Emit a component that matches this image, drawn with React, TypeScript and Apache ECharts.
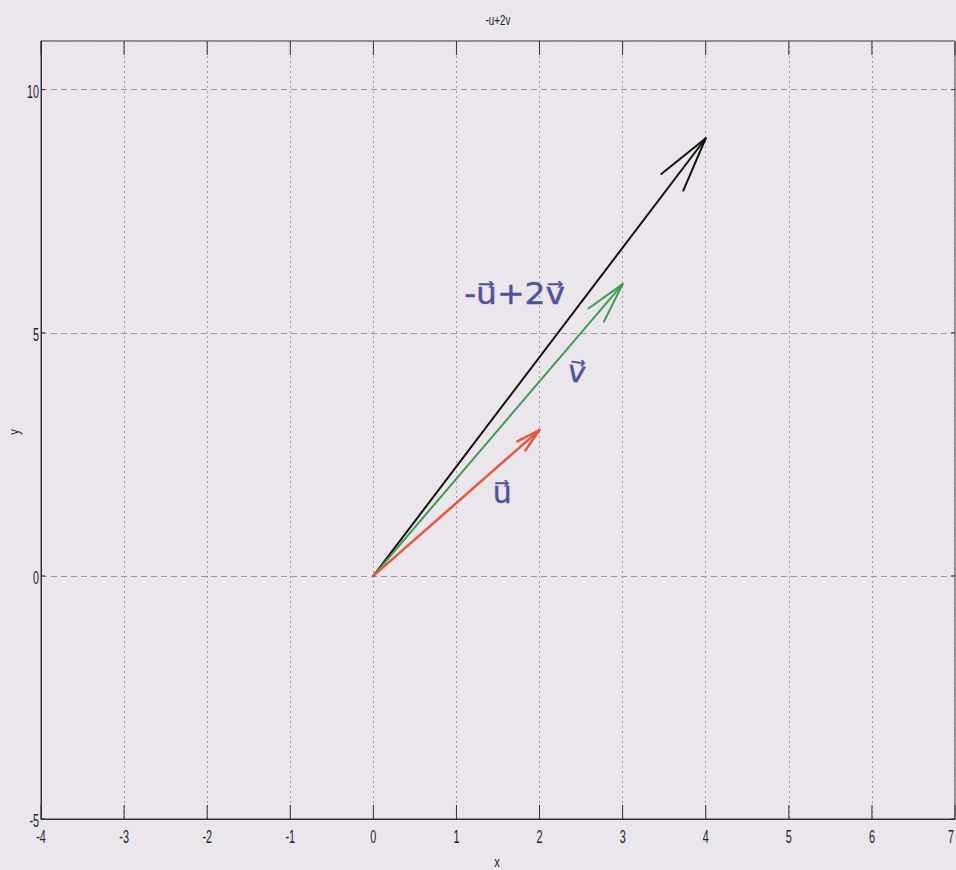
import React, { useEffect, useRef } from "react";
import * as echarts from "echarts";

// ---- data ----
const chartTitle = "-u+2v";
const xName = "x";
const yName = "y";
const xRange = [-4, 7];
const yRange = [-5, 11];
const xStep = 1;
const yStep = 5;
const xTicks = [-4, -3, -2, -1, 0, 1, 2, 3, 4, 5, 6, 7];
const yTicks = [-5, 0, 5, 10];

const vectorNames = ["u", "v", "-u+2v"];
const vectorStart = [
  [0, 0],
  [0, 0],
  [0, 0],
];
const vectorEnd = [
  [2, 3],
  [3, 6],
  [4, 9],
];

// handwritten annotations (text + data position of their centre)
const noteTexts = ["-u\u20D7+2v\u20D7", "v\u20D7", "u\u20D7"];
const notePos = [
  [1.7, 5.8],
  [2.45, 4.2],
  [1.55, 1.72],
];

// ---- styles ----
const vectorStyles = [
  { color: "#E4583F", width: 2.5, head: 25 },
  { color: "#3E9B52", width: 2, head: 42 },
  { color: "#111111", width: 2, head: 57 },
];
const noteColor = "#52529A";
const bg = "#EAE6EC";
const axisColor = "#333";
const gridColor = "#9a9a9a";
const labelFont = "18px 'Liberation Sans', Arial, sans-serif";
const labelScaleX = 0.6;

export default function App() {
  const ref = useRef<HTMLDivElement>(null);

  useEffect(() => {
    if (!ref.current) return;
    const chart = echarts.init(ref.current, undefined, { renderer: "svg" });

    const vectorSeries = vectorNames.map((name, i) => ({
      type: "custom",
      name,
      xAxisIndex: 0,
      yAxisIndex: 0,
      z: 3 + (2 - i),
      data: [[vectorStart[i][0], vectorStart[i][1], vectorEnd[i][0], vectorEnd[i][1]]],
      encode: { x: [0, 2], y: [1, 3] },
      renderItem: (params: any, api: any) => {
        const p0 = api.coord([api.value(0), api.value(1)]);
        const p1 = api.coord([api.value(2), api.value(3)]);
        const st = vectorStyles[i];
        const ang = Math.atan2(p0[1] - p1[1], p0[0] - p1[0]);
        const half = (14 * Math.PI) / 180;
        const b1 = [p1[0] + st.head * Math.cos(ang - half), p1[1] + st.head * Math.sin(ang - half)];
        const b2 = [p1[0] + st.head * Math.cos(ang + half), p1[1] + st.head * Math.sin(ang + half)];
        const ls = { stroke: st.color, lineWidth: st.width, fill: "none", lineCap: "round", lineJoin: "round" };
        return {
          type: "group",
          children: [
            { type: "line", shape: { x1: p0[0], y1: p0[1], x2: p1[0], y2: p1[1] }, style: ls },
            { type: "polyline", shape: { points: [b1, p1, b2] }, style: ls },
          ],
        };
      },
    }));

    const noteSeries = {
      type: "custom",
      name: "notes",
      xAxisIndex: 0,
      yAxisIndex: 0,
      z: 10,
      data: notePos.map((p, i) => [p[0], p[1], i]),
      renderItem: (params: any, api: any) => {
        const p = api.coord([api.value(0), api.value(1)]);
        const idx = api.value(2);
        return {
          type: "text",
          x: p[0],
          y: p[1],
          rotation: idx === 1 ? -0.15 : 0,
          scaleX: idx === 0 ? 1.1 : 1,
          style: {
            text: noteTexts[idx],
            fill: noteColor,
            stroke: noteColor,
            lineWidth: 0.4,
            font: "30px 'DejaVu Sans', sans-serif",
            align: "center",
            verticalAlign: "middle",
          },
        };
      },
    };

    // ticks + tick labels (narrow, like the original plot)
    const tickData = [
      ...xTicks.map((v) => [v, 0]),
      ...yTicks.map((v) => [v, 1]),
    ];
    const tickSeries = {
      type: "custom",
      name: "ticks",
      xAxisIndex: 0,
      yAxisIndex: 0,
      z: 20,
      clip: false,
      silent: true,
      data: tickData,
      renderItem: (params: any, api: any) => {
        const cs = params.coordSys;
        const left = cs.x;
        const right = cs.x + cs.width;
        const top = cs.y;
        const bottom = cs.y + cs.height;
        const v = api.value(0);
        const kind = api.value(1);
        const ls = { stroke: axisColor, lineWidth: 1 };
        if (kind === 0) {
          const px = api.coord([v, yRange[0]])[0];
          const lx = Math.min(px, right - 4);
          return {
            type: "group",
            children: [
              { type: "line", shape: { x1: px, y1: bottom, x2: px, y2: bottom - 14 }, style: ls },
              { type: "line", shape: { x1: px, y1: top, x2: px, y2: top + 14 }, style: ls },
              {
                type: "text",
                x: lx,
                y: bottom + 18,
                scaleX: labelScaleX,
                style: { text: String(v), fill: "#222", font: labelFont, align: "center", verticalAlign: "middle" },
              },
            ],
          };
        }
        const py = api.coord([xRange[0], v])[1];
        return {
          type: "group",
          children: [
            { type: "line", shape: { x1: left, y1: py, x2: left + 4, y2: py }, style: ls },
            { type: "line", shape: { x1: right, y1: py, x2: right - 4, y2: py }, style: ls },
            {
              type: "text",
              x: left - 2,
              y: py + 2,
              scaleX: labelScaleX,
              style: { text: String(v), fill: "#222", font: labelFont, align: "right", verticalAlign: "middle" },
            },
          ],
        };
      },
    };

    chart.setOption({
      animation: false,
      backgroundColor: bg,
      graphic: [
        {
          type: "text",
          x: 498,
          y: 20,
          scaleX: 0.7,
          style: {
            text: chartTitle,
            fill: "#222",
            font: "14px 'Liberation Sans', Arial, sans-serif",
            align: "center",
            verticalAlign: "middle",
          },
        },
        {
          type: "text",
          x: 497,
          y: 862,
          scaleX: 0.75,
          style: {
            text: xName,
            fill: "#222",
            font: "15px 'Liberation Sans', Arial, sans-serif",
            align: "center",
            verticalAlign: "middle",
          },
        },
        {
          type: "text",
          x: 14,
          y: 432,
          rotation: Math.PI / 2,
          scaleX: 0.75,
          style: {
            text: yName,
            fill: "#222",
            font: "15px 'Liberation Sans', Arial, sans-serif",
            align: "center",
            verticalAlign: "middle",
          },
        },
      ],
      grid: {
        left: 41,
        right: 1,
        top: 41,
        bottom: 51,
        show: true,
        containLabel: false,
        outerBoundsMode: "none",
        borderColor: axisColor,
        borderWidth: 1,
        backgroundColor: "transparent",
      },
      xAxis: [
        {
          type: "value",
          position: "bottom",
          min: xRange[0],
          max: xRange[1],
          interval: xStep,
          axisLine: { show: true, onZero: false, lineStyle: { color: axisColor, width: 1 } },
          axisTick: { show: false },
          axisLabel: { show: false },
          splitLine: { show: true, lineStyle: { type: [2, 3], color: gridColor, width: 1 } },
        },
      ],
      yAxis: [
        {
          type: "value",
          position: "left",
          min: yRange[0],
          max: yRange[1],
          interval: yStep,
          axisLine: { show: true, onZero: false, lineStyle: { color: axisColor, width: 1 } },
          axisTick: { show: false },
          axisLabel: { show: false },
          splitLine: { show: true, lineStyle: { type: [6, 4], color: gridColor, width: 1 } },
        },
      ],
      series: [...vectorSeries, noteSeries, tickSeries],
    });

    return () => chart.dispose();
  }, []);

  return (
    <div
      ref={ref}
      style={{ position: "fixed", left: 0, top: 0, width: 956, height: 870, background: bg }}
    />
  );
}
